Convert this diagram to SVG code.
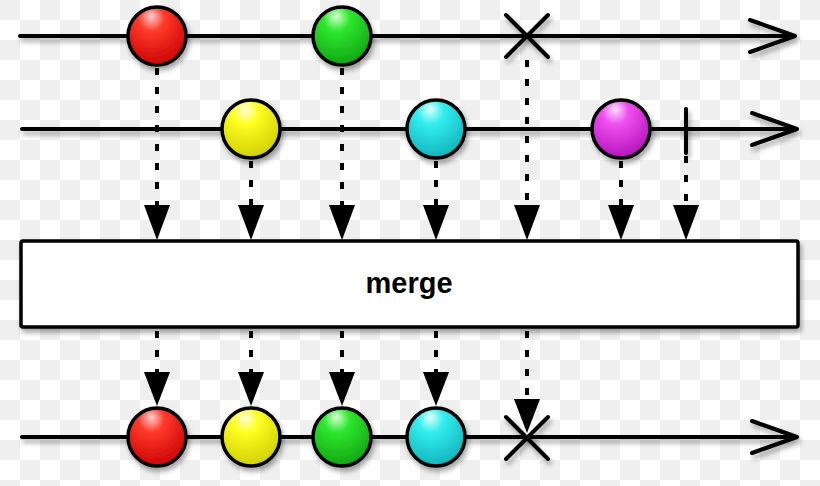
<svg xmlns="http://www.w3.org/2000/svg" width="820" height="486" viewBox="0 0 820 486">
<defs>
<pattern id="checker" width="40" height="40" patternUnits="userSpaceOnUse">
<rect width="40" height="40" fill="#ffffff"/>
<rect x="0" y="0" width="20" height="20" fill="#efefef"/>
<rect x="20" y="20" width="20" height="20" fill="#efefef"/>
</pattern>
<filter id="sh" filterUnits="userSpaceOnUse" x="0" y="0" width="820" height="486">
<feDropShadow dx="2" dy="4" stdDeviation="2.5" flood-color="#000" flood-opacity="0.35"/>
</filter>
<radialGradient id="gRed" cx="0.42" cy="0.3" r="0.75" fx="0.4" fy="0.15">
<stop offset="0" stop-color="#ffd0d0"/><stop offset="0.3" stop-color="#ff3a2a"/><stop offset="1" stop-color="#c80000"/>
</radialGradient>
<radialGradient id="gGreen" cx="0.42" cy="0.3" r="0.75" fx="0.4" fy="0.15">
<stop offset="0" stop-color="#d8ffd8"/><stop offset="0.3" stop-color="#2ee82e"/><stop offset="1" stop-color="#10a010"/>
</radialGradient>
<radialGradient id="gYellow" cx="0.42" cy="0.3" r="0.75" fx="0.4" fy="0.15">
<stop offset="0" stop-color="#ffffe0"/><stop offset="0.3" stop-color="#ffff22"/><stop offset="1" stop-color="#cccc00"/>
</radialGradient>
<radialGradient id="gCyan" cx="0.42" cy="0.3" r="0.75" fx="0.4" fy="0.15">
<stop offset="0" stop-color="#e0ffff"/><stop offset="0.3" stop-color="#33eeee"/><stop offset="1" stop-color="#10b0b8"/>
</radialGradient>
<radialGradient id="gMagenta" cx="0.42" cy="0.3" r="0.75" fx="0.4" fy="0.15">
<stop offset="0" stop-color="#ffe0ff"/><stop offset="0.3" stop-color="#f050f0"/><stop offset="1" stop-color="#b010b8"/>
</radialGradient>
<polygon id="tri" points="-13,0 13,0 0,35"/>
<polygon id="triS" points="-13,0 13,0 0,34"/>
</defs>
<style>
.line{stroke:#000;stroke-width:4;fill:none;stroke-linecap:round;stroke-linejoin:round}
.dot{stroke:#000;stroke-width:4;fill:none;stroke-dasharray:7 12}
.ball{stroke:#000;stroke-width:3.5}
.head{fill:#000}
.lbl{font-family:"Liberation Sans",Arial,sans-serif;font-weight:bold;font-size:29px;fill:#000}
</style>
<rect width="820" height="486" fill="url(#checker)"/>

<g id="connectors">
<g id="timelines" filter="url(#sh)">
<path class="line" d="M20,36 H795 M750,20 L795,36 L750,52"/>
<path class="line" d="M22,129 H797 M752,113 L797,129 L752,145"/>
<path class="line" d="M22,437 H797 M752,421 L797,437 L752,453"/>
</g>
<g id="dotted">
<path class="dot" d="M157,68 V205"/>
<path class="dot" d="M342,68 V205"/>
<path class="dot" d="M527,60 V205"/>
<path class="dot" d="M251,161 V205"/>
<path class="dot" d="M436,161 V205"/>
<path class="dot" d="M621,161 V205"/>
<path class="dot" d="M686,156 V205"/>
<path class="dot" d="M157,331 V372"/>
<path class="dot" d="M251,331 V372"/>
<path class="dot" d="M342,331 V372"/>
<path class="dot" d="M436,331 V372"/>
<path class="dot" d="M527,331 V399"/>
</g>
<g id="arrowheads" class="head">
<use href="#tri" x="157" y="205"/>
<use href="#tri" x="251" y="205"/>
<use href="#tri" x="342" y="205"/>
<use href="#tri" x="436" y="205"/>
<use href="#tri" x="527" y="205"/>
<use href="#tri" x="621" y="205"/>
<use href="#tri" x="686" y="205"/>
<use href="#triS" x="157" y="372"/>
<use href="#triS" x="251" y="372"/>
<use href="#triS" x="342" y="372"/>
<use href="#triS" x="436" y="372"/>
<use href="#triS" x="527" y="399"/>
</g>
</g>

<g id="top-red" filter="url(#sh)"><circle class="ball" cx="157" cy="36" r="29" fill="url(#gRed)"/></g>
<g id="top-green" filter="url(#sh)"><circle class="ball" cx="342" cy="36" r="29" fill="url(#gGreen)"/></g>
<g id="top-error" filter="url(#sh)"><path class="line" d="M506,15 L548,57 M548,15 L506,57"/></g>

<g id="mid-yellow" filter="url(#sh)"><circle class="ball" cx="251" cy="129" r="29" fill="url(#gYellow)"/></g>
<g id="mid-cyan" filter="url(#sh)"><circle class="ball" cx="436" cy="129" r="29" fill="url(#gCyan)"/></g>
<g id="mid-magenta" filter="url(#sh)"><circle class="ball" cx="621" cy="129" r="29" fill="url(#gMagenta)"/></g>
<g id="mid-complete" filter="url(#sh)"><path class="line" d="M686,109 V153"/></g>

<g id="merge">
<rect x="21" y="241" width="777" height="86" rx="2" fill="#fff" stroke="#000" stroke-width="3.5" filter="url(#sh)"/>
<text class="lbl" x="409" y="293" text-anchor="middle">merge</text>
</g>

<g id="out-red" filter="url(#sh)"><circle class="ball" cx="157" cy="437" r="29" fill="url(#gRed)"/></g>
<g id="out-yellow" filter="url(#sh)"><circle class="ball" cx="251" cy="437" r="29" fill="url(#gYellow)"/></g>
<g id="out-green" filter="url(#sh)"><circle class="ball" cx="342" cy="437" r="29" fill="url(#gGreen)"/></g>
<g id="out-cyan" filter="url(#sh)"><circle class="ball" cx="436" cy="437" r="29" fill="url(#gCyan)"/></g>
<g id="out-error" filter="url(#sh)"><path class="line" d="M506,417 L548,459 M548,417 L506,459"/></g>
</svg>
